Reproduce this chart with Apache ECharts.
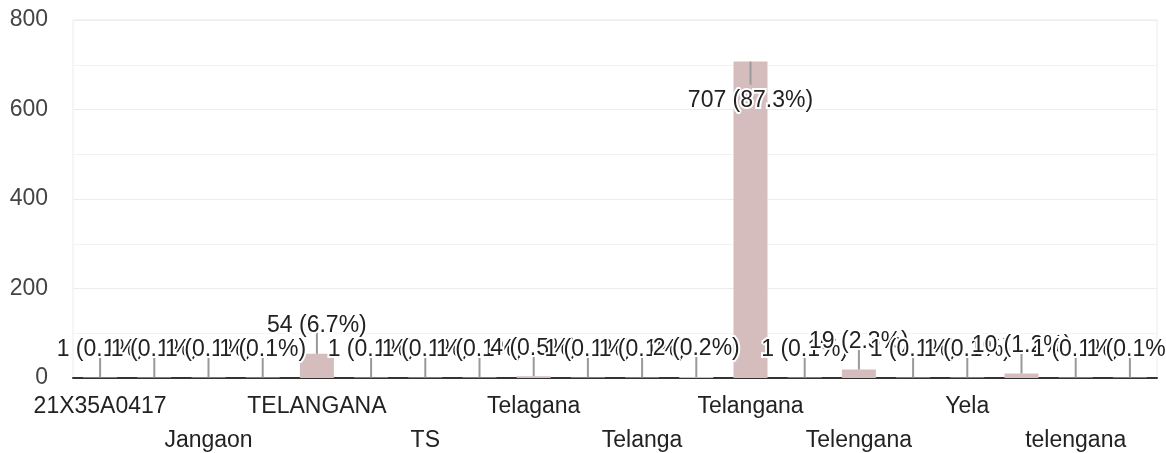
<!DOCTYPE html>
<html>
<head>
<meta charset="utf-8">
<script src="https://cdn.jsdelivr.net/npm/echarts@6/dist/echarts.min.js"></script>
<style>
html,body{margin:0;padding:0;background:#fff;}
#chart{width:1166px;height:453px;}
</style>
</head>
<body>
<div id="chart"></div>
<script>
// Categories (alphabetical, as in the response summary)
const categories = [
  "21X35A0417", "Hyderabad", "Jangaon", "Karimnagar", "TELANGANA",
  "TELENGANA", "TS", "Talangana", "Telagana", "Telagna",
  "Telanga", "Telangaana", "Telangana", "Telangana state", "Telengana",
  "Thelangana", "Yela", "telangana", "telengana", "ts"
];
// Response counts
const counts = [1, 1, 1, 1, 54, 1, 1, 1, 4, 1, 1, 2, 707, 1, 19, 1, 1, 10, 1, 1];
// Y axis ticks
const yMin = 0, yMax = 800, yStep = 200;

const total = counts.reduce((a, b) => a + b, 0);
const FONT = '"Liberation Sans", Arial, sans-serif';

const chart = echarts.init(document.getElementById('chart'), null, {renderer: 'canvas'});
chart.setOption({
  animation: false,
  grid: {
    left: 73, right: 9, top: 20, bottom: 75,
    containLabel: false, outerBoundsMode: 'none',
    show: true, borderColor: '#ececec', borderWidth: 1
  },
  xAxis: {
    type: 'category',
    data: categories,
    axisTick: {show: false},
    axisLine: {lineStyle: {color: '#333', width: 2}},
    axisLabel: {
      interval: 0,
      margin: 12,
      fontSize: 23,
      lineHeight: 34,
      fontFamily: FONT,
      color: '#222',
      formatter: (v, i) => (i % 4 === 0 ? v : (i % 4 === 2 ? '\n' + v : ''))
    }
  },
  yAxis: {
    type: 'value',
    min: yMin, max: yMax, interval: yStep,
    axisLine: {show: false},
    axisTick: {show: false},
    splitLine: {lineStyle: {color: '#ececec', width: 1}},
    minorTick: {show: false, splitNumber: 2},
    minorSplitLine: {show: true, lineStyle: {color: '#f2f2f2', width: 1}},
    axisLabel: {fontSize: 23, fontFamily: FONT, color: '#444', margin: 25, padding: [4, 0, 0, 0]}
  },
  series: [
    {
      type: 'bar',
      data: counts,
      barWidth: 34,
      itemStyle: {color: '#d5bdbd'},
      z: 2
    },
    {
      type: 'custom',
      z: 3,
      clip: false,
      data: counts.map((v, i) => [i, v]),
      encode: {x: 0, y: 1},
      renderItem: function (params, api) {
        const i = api.value(0), v = api.value(1);
        const p = api.coord([i, v]);
        const topY = params.coordSys.y;
        const down = (p[1] - 45) < topY;
        const dir = down ? 1 : -1;
        const stemLen = 23;
        const textY = down ? p[1] + 39 : p[1] - 28;
        const text = v + ' (' + (v / total * 100).toFixed(1) + '%)';
        return {
          type: 'group',
          children: [
            {
              type: 'line',
              shape: {x1: p[0], y1: p[1], x2: p[0], y2: p[1] + dir * stemLen},
              style: {stroke: '#999', lineWidth: 2}
            },
            {
              type: 'text',
              x: p[0], y: textY,
              style: {
                text: text,
                font: '23px ' + FONT,
                fill: '#222',
                stroke: '#fff',
                lineWidth: 4,
                align: 'center',
                verticalAlign: 'middle'
              }
            }
          ]
        };
      }
    }
  ]
});
</script>
</body>
</html>
